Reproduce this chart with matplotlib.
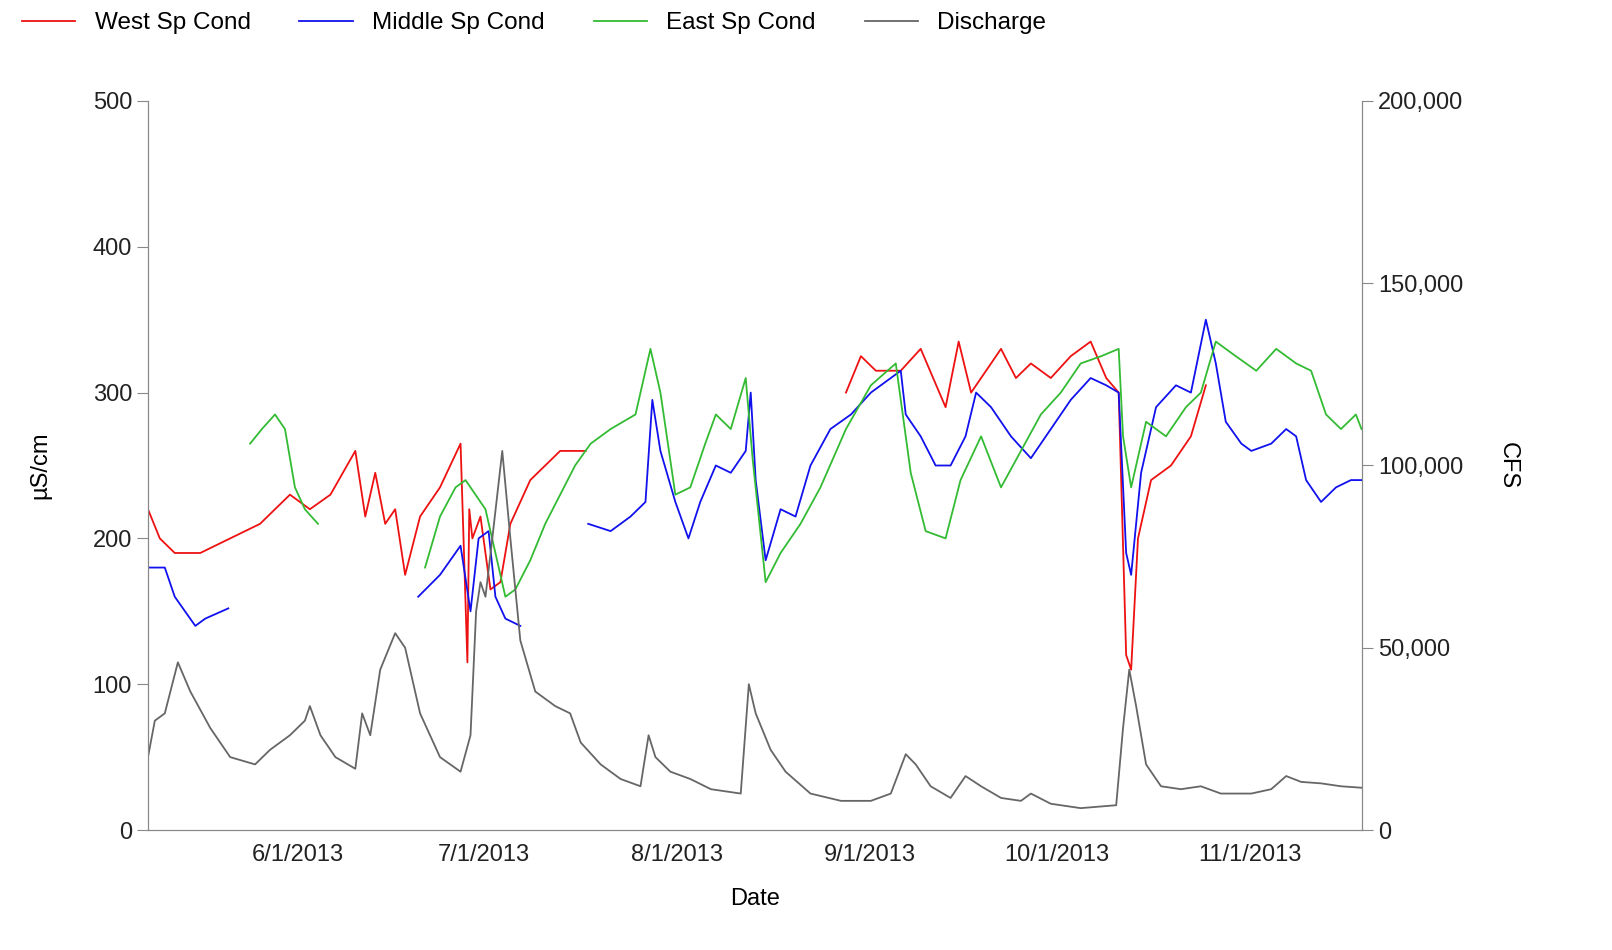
import datetime as dt
import matplotlib
matplotlib.use("Agg")
import matplotlib.pyplot as plt
import matplotlib.dates as mdates

start = dt.datetime(2013, 5, 8)

west_day = [0,1.9,4.3,8.4,13.2,18,22.8,26,29.3,33.3,34.9,36.5,38.1,39.7,41.3,43.7,46.9,50.2,51.3,51.6,52.1,53.4,55,56.6,58.2,61.4,63.8,66.2,70.3,
            None,
            112.1,114.5,116.9,120.9,124.1,128.1,130.2,132.2,134.6,137,139.4,141.8,145,148.2,151.4,153.9,155.9,157.1,157.9,159,161.1,164.3,167.5,169.9]
west_val = [220,200,190,190,200,210,230,220,230,260,215,245,210,220,175,215,235,265,115,220,200,215,165,170,210,240,250,260,260,
            None,
            300,325,315,315,330,290,335,300,315,330,310,320,310,325,335,310,300,120,110,200,240,250,270,305]

mid_day = [0,2.7,4.3,7.6,9.2,12.9,None,
           43.4,46.9,50.2,51.8,53.1,54.7,55.8,57.4,59.8,None,
           70.7,74.3,77.5,79.9,81,82.3,84.7,86.8,88.7,91.2,93.6,96,96.8,97.6,99.2,101.6,104,106.4,109.6,112.9,116.1,119.3,120.9,121.7,124.1,126.5,128.9,131.3,133,135.4,138.6,141.8,145,148.2,151.4,153.9,155.9,157.1,157.9,159.5,161.9,165.1,167.5,169.9,171.5,173.1,175.6,177.2,180.4,182.8,184.4,186,188.4,190.8,193.2,194.9]
mid_val = [180,180,160,140,145,152,None,
           160,175,195,150,200,205,160,145,140,None,
           210,205,215,225,295,260,225,200,225,250,245,260,300,240,185,220,215,250,275,285,300,310,315,285,270,250,250,270,300,290,270,255,275,295,310,305,300,190,175,245,290,305,300,350,320,280,265,260,265,275,270,240,225,235,240,240]

east_day = [16.4,18.3,20.4,22,23.6,25.2,27.3,None,
            44.5,46.9,49.4,51,52.6,54.2,55.8,57.4,59,61.4,63.8,66.2,68.6,71.1,74.3,78.3,80.7,82.3,84.7,87.1,89.5,91.2,93.6,96,97.1,99.2,101.6,104.8,108,112.1,116.1,120.1,122.5,124.9,128.1,130.5,133.8,137,140.2,143.4,146.6,149.8,153.1,155.9,156.6,157.9,160.3,163.5,166.7,169.1,171.5,174.7,178,181.2,184.4,186.8,189.2,191.6,194,194.9]
east_val = [265,275,285,275,235,220,210,None,
            180,215,235,240,230,220,190,160,165,185,210,230,250,265,275,285,330,300,230,235,265,285,275,310,255,170,190,210,235,275,305,320,245,205,200,240,270,235,260,285,300,320,325,330,270,235,280,270,290,300,335,325,315,330,320,315,285,275,285,275]

q_day = [0,1.1,2.7,4.8,6.8,10,13.2,17.2,19.6,22.8,25.2,26,27.7,30.1,33.3,34.4,35.7,37.3,39.7,41.3,43.7,46.9,50.2,51.8,52.7,53.4,54.2,55.3,56.9,58.2,59.8,62.2,65.4,67.8,69.5,72.7,75.9,79.1,80.4,81.5,83.9,87.1,90.4,95.2,96.5,97.6,100,102.4,106.4,111.3,116.1,119.3,121.7,123.3,125.7,128.9,131.3,133.8,137,140.2,141.8,145,149.8,155.5,156.6,157.6,158.7,160.3,162.7,165.9,169.1,172.3,177.2,180.4,182.8,185.2,188.4,191.6,194.9]
q_cfs = [20000,30000,32000,46000,38000,28000,20000,18000,22000,26000,30000,34000,26000,20000,16800,32000,26000,44000,54000,50000,32000,20000,16000,26000,60000,68000,64000,80000,104000,80000,52000,38000,34000,32000,24000,18000,14000,12000,26000,20000,16000,14000,11200,10000,40000,32000,22000,16000,10000,8000,8000,10000,20800,18000,12000,8800,14800,12000,8800,8000,10000,7200,6000,6800,28000,44000,34000,18000,12000,11200,12000,10000,10000,11200,14800,13200,12800,12000,11600]

def to_dates(days):
    return [start + dt.timedelta(days=d) for d in days]

def seg(days, vals):
    out, cd, cv = [], [], []
    for d, v in zip(days, vals):
        if d is None:
            out.append((cd, cv)); cd, cv = [], []
        else:
            cd.append(start + dt.timedelta(days=d)); cv.append(v)
    out.append((cd, cv))
    return out

plt.rcParams['font.family'] = ['Liberation Sans', 'DejaVu Sans']
fig = plt.figure(figsize=(16.12, 9.5), dpi=100)
ax = fig.add_axes([0.0918, 0.1263, 0.7532, 0.7674])
ax2 = ax.twinx()

for s, (d, v) in enumerate(seg(west_day, west_val)):
    ax.plot(d, v, color='#ee1111', lw=1.3, label='West Sp Cond' if s == 0 else None)
for s, (d, v) in enumerate(seg(mid_day, mid_val)):
    ax.plot(d, v, color='#1111ee', lw=1.3, label='Middle Sp Cond' if s == 0 else None)
for s, (d, v) in enumerate(seg(east_day, east_val)):
    ax.plot(d, v, color='#33bb33', lw=1.3, label='East Sp Cond' if s == 0 else None)
ax2.plot(to_dates(q_day), q_cfs, color='#666666', lw=1.3)
ax.plot([], [], color='#666666', lw=1.3, label='Discharge')

ax.set_ylim(0, 500)
ax2.set_ylim(0, 200000)
ax.set_xlim(start, start + dt.timedelta(days=195))
ax.set_yticks(range(0, 501, 100))
ax2.set_yticks(range(0, 200001, 50000))
ax2.yaxis.set_major_formatter(matplotlib.ticker.FuncFormatter(lambda v, p: f"{int(v):,}"))
ax.xaxis.set_major_locator(mdates.MonthLocator(bymonthday=1))
ax.xaxis.set_major_formatter(matplotlib.ticker.FuncFormatter(
    lambda v, p: f"{mdates.num2date(v).month}/1/{mdates.num2date(v).year}"))

for a in (ax, ax2):
    a.spines['top'].set_visible(False)
    for sp in ('left', 'right', 'bottom'):
        a.spines[sp].set_color('#888888')
    a.tick_params(labelsize=17, colors='#222222', length=8, color='#888888')
ax.tick_params(axis='x', length=0, pad=10)

ax.set_xlabel('Date', fontsize=17, labelpad=16)
ax.set_ylabel('µS/cm', fontsize=17, labelpad=30)
ax2.set_ylabel('CFS', fontsize=17, rotation=270, labelpad=40)

fig.legend(loc='upper left', bbox_to_anchor=(0.0, 1.01), ncol=4, frameon=False,
           fontsize=17.5, handlelength=2.2, columnspacing=2.0)
fig.savefig('out.png', dpi=100)
